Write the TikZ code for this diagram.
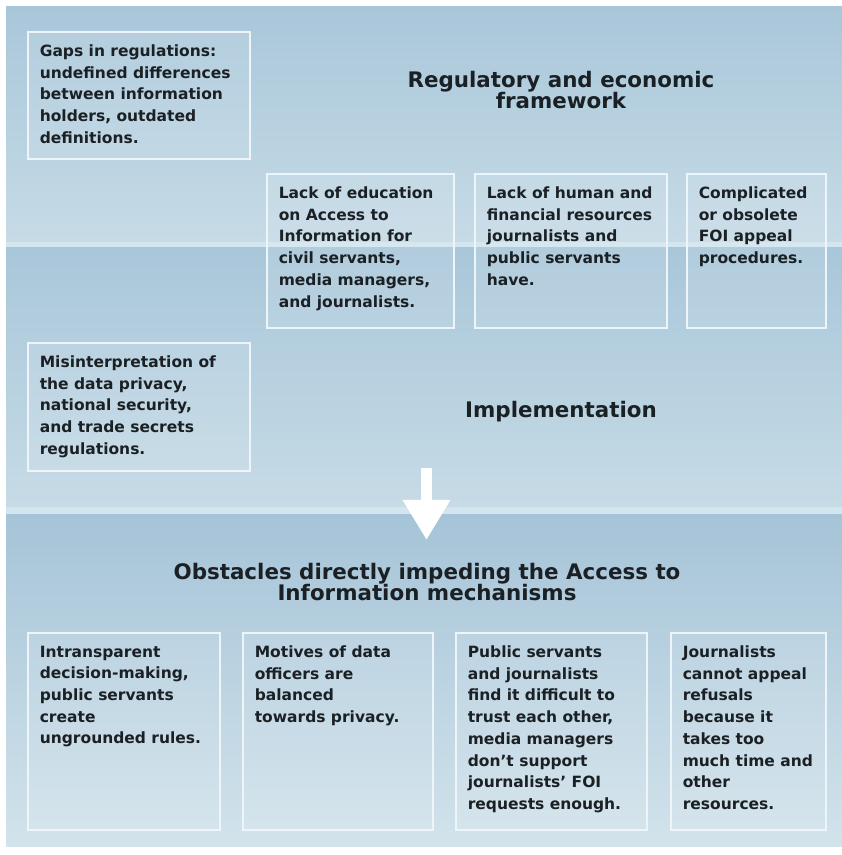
\documentclass[tikz,border=0pt]{standalone}
\usepackage{fontspec}
\setmainfont{DejaVu Sans}
\usetikzlibrary{positioning,arrows.meta}
\definecolor{skyA}{HTML}{A9C7DA}
\definecolor{skyB}{HTML}{C6DBE6}
\definecolor{skyC}{HTML}{A6C4D8}
\definecolor{skyD}{HTML}{D2E3EB}
\definecolor{stripe}{HTML}{D3E5EE}
\definecolor{frame}{HTML}{EEF5F9}
\definecolor{ink}{HTML}{1A2024}
\newcommand{\cell}[3]{\parbox[t][\dimexpr#2-26pt\relax][t]{\dimexpr#1-24pt\relax}{#3}}
\tikzset{
  box/.style={draw=frame, line width=1.6pt, fill=white, fill opacity=0.1, text opacity=1,
    text=ink, anchor=north west, inner xsep=12pt, inner ysep=13pt,
    font=\fontsize{15.5}{21.7}\bfseries\selectfont},
  heading/.style={text=ink, align=center, font=\fontsize{21.4}{20.5}\bfseries\selectfont}
}

\begin{document}
\begin{tikzpicture}[x=1pt,y=1pt]
  \useasboundingbox (0,0) rectangle (842,855);
  \fill[white] (0,0) rectangle (842,855);
  % three bands
  \shade[top color=skyA, bottom color=skyB] (6,848) rectangle (842,613);
  \fill[stripe] (6,613) rectangle (842,607);
  \shade[top color=skyA, bottom color=skyB] (6,607) rectangle (842,348);
  \fill[stripe] (6,348) rectangle (842,340);
  \shade[top color=skyC, bottom color=skyD] (6,340) rectangle (842,8);

  % regulatory and economic framework
  \node[heading] (regtitle) at (561,765) {Regulatory and economic\\framework};
  \node[box] (gaps) at (27,824) {\cell{222pt}{127pt}{Gaps in regulations:\\undefined differences\\between information\\holders, outdated\\definitions.}};
  \node[box] (educ) at (266,682) {\cell{187pt}{154pt}{Lack of education\\on Access to\\Information for\\civil servants,\\media managers,\\and journalists.}};
  \node[box] (means) at (474,682) {\cell{192pt}{154pt}{Lack of human and\\financial resources\\journalists and\\public servants\\have.}};
  \node[box] (appeal) at (686,682) {\cell{139pt}{154pt}{Complicated\\or obsolete\\FOI appeal\\procedures.}};

  % implementation
  \node[box] (misread) at (27,513) {\cell{222pt}{128pt}{Misinterpretation of\\the data privacy,\\national security,\\and trade secrets\\regulations.}};
  \node[heading] (impltitle) at (561,443) {Implementation};

  \coordinate (flowtop) at (426.5,387);
  \coordinate (flowtip) at (426.5,315);
  \draw[white, line width=11pt, -{Triangle[width=45pt,length=40pt]}] (flowtop) -- (flowtip);

  % obstacles
  \node[heading] (obsttitle) at (427,273) {Obstacles directly impeding the Access to\\Information mechanisms};
  \node[box] (rules) at (27,223) {\cell{192pt}{197pt}{Intransparent\\decision-making,\\public servants\\create\\ungrounded rules.}};
  \node[box] (motives) at (242,223) {\cell{190pt}{197pt}{Motives of data\\officers are\\balanced\\towards privacy.}};
  \node[box] (trust) at (455,223) {\cell{191pt}{197pt}{Public servants\\and journalists\\find it difficult to\\trust each other,\\media managers\\don’t support\\journalists’ FOI\\requests enough.}};
  \node[box] (refusal) at (670,223) {\cell{155pt}{197pt}{Journalists\\cannot appeal\\refusals\\because it\\takes too\\much time and\\other\\resources.}};
\end{tikzpicture}
\end{document}
